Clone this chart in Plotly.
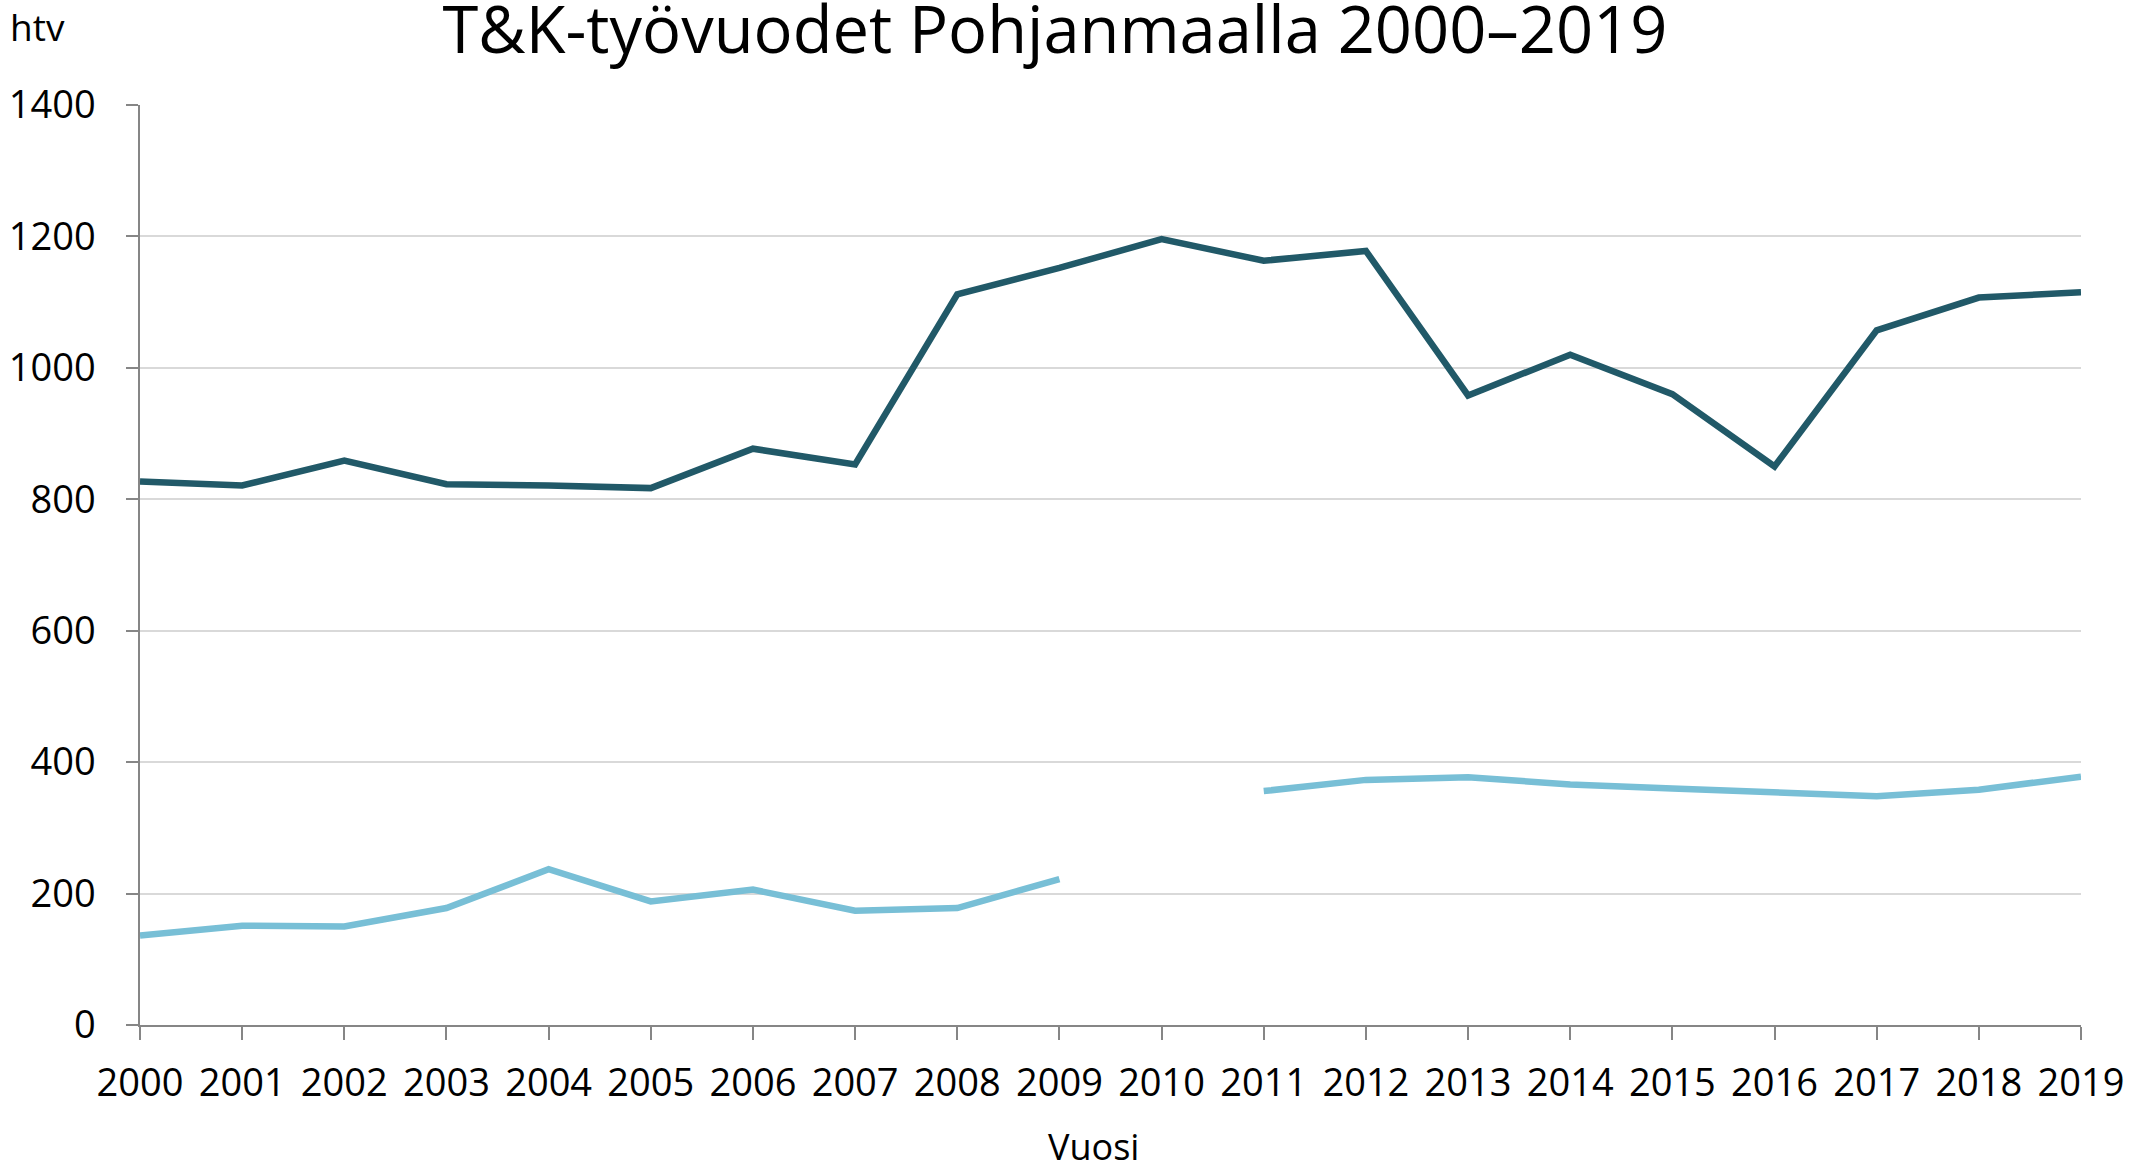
import plotly.graph_objects as go

years = list(range(2000, 2020))
dark_series = [827, 821, 859, 823, 821, 817, 877, 853, 1112, 1152,
               1196, 1163, 1178, 958, 1020, 960, 850, 1057, 1107, 1115]
light_series = [136, 151, 150, 178, 237, 188, 206, 174, 178, 222,
                None, 356, 373, 377, 366, 360, 353, 348, 358, 378]
y_ticks = [0, 200, 400, 600, 800, 1000, 1200, 1400]

title_text = "T&K-työvuodet Pohjanmaalla 2000–2019"
y_unit = "htv"
x_label = "Vuosi"

FONT = "Open Sans"
W, H = 2131, 1169
L, R, T, B = 140, 50, 105, 144

fig = go.Figure()
fig.add_trace(go.Scatter(x=years, y=dark_series, mode="lines",
                         line=dict(color="#215968", width=6.5),
                         showlegend=False, hoverinfo="x+y"))
fig.add_trace(go.Scatter(x=years, y=light_series, mode="lines",
                         line=dict(color="#78BFD6", width=6.5),
                         connectgaps=False, showlegend=False, hoverinfo="x+y"))

plot_w = W - L - R
plot_h = H - T - B

fig.update_layout(
    width=W, height=H,
    margin=dict(l=L, r=R, t=T, b=B, pad=0, autoexpand=False),
    paper_bgcolor="white", plot_bgcolor="white",
    font=dict(family=FONT, color="#000000", size=38),
    title=dict(text=title_text, x=1055 / W, xanchor="center",
               y=1 - 30 / H, yanchor="middle", yref="container",
               font=dict(family=FONT, size=65, color="#000000")),
    xaxis=dict(range=[2000, 2019], tickmode="array", tickvals=years,
               ticktext=[str(y) for y in years], automargin=False,
               showgrid=False, zeroline=False,
               showline=True, linecolor="#868686", linewidth=1.5,
               ticks="outside", ticklen=13, tickcolor="#868686", tickwidth=1.5,
               ticklabelstandoff=11,
               tickfont=dict(family=FONT, size=38, color="#000000")),
    yaxis=dict(range=[0, 1400], tickmode="array", tickvals=y_ticks,
               automargin=False,
               showgrid=True, gridcolor="#D9D9D9", gridwidth=1.5,
               zeroline=False,
               showline=True, linecolor="#868686", linewidth=1.5,
               ticks="outside", ticklen=12, tickcolor="#868686", tickwidth=1.5,
               ticklabelstandoff=23,
               tickfont=dict(family=FONT, size=38, color="#000000")),
    annotations=[
        dict(text=y_unit, xref="paper", yref="paper",
             x=(8 - L) / plot_w, xanchor="left",
             y=(H - B - 27) / plot_h, yanchor="middle",
             showarrow=False, font=dict(family=FONT, size=37, color="#000000")),
        dict(text=x_label, xref="paper", yref="paper",
             x=(1093 - L) / plot_w, xanchor="center",
             y=(H - B - 1146) / plot_h, yanchor="middle",
             showarrow=False, font=dict(family=FONT, size=36, color="#000000")),
    ],
)

fig.write_html("out.html",
               config={"displayModeBar": False},
               post_script="document.body.style.margin='0';"
                           "document.body.style.overflow='hidden';")
